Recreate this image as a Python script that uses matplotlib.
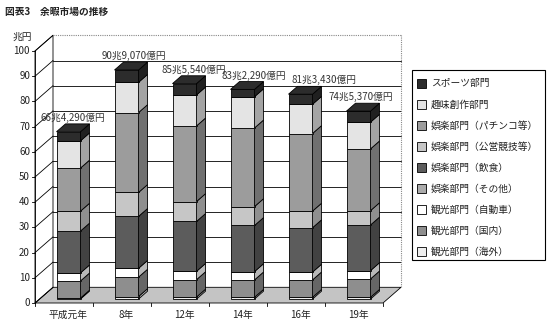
import matplotlib.pyplot as plt
from matplotlib.patches import Polygon, Rectangle
import matplotlib.colors as mcolors

plt.rcParams['font.family'] = ['Noto Sans CJK JP', 'DejaVu Sans']

years = ['平成元年', '8年', '12年', '14年', '16年', '19年']
totals = ['66兆4,290億円', '90兆9,070億円', '85兆5,540億円',
          '83兆2,290億円', '81兆3,430億円', '74兆5,370億円']

# 兆円, stacked from the bottom up
kaigai = [0.4, 1.0, 0.8, 0.7, 0.7, 0.7]
kokunai = [6.8, 7.7, 6.9, 6.9, 6.9, 7.3]
jidosha = [3.2, 3.5, 3.3, 3.3, 3.1, 3.3]
sonota = [0, 0, 0, 0, 0, 0]
inshoku = [16.6, 20.6, 19.8, 18.3, 17.6, 18.1]
koei = [7.9, 9.5, 7.9, 7.5, 6.6, 5.7]
pachinko = [17.1, 31.7, 30.0, 31.2, 30.8, 24.5]
shumi = [10.8, 12.0, 12.3, 12.4, 11.6, 10.6]
sports = [3.6, 4.9, 4.5, 2.9, 4.0, 4.4]

series = [
    ('観光部門（海外）', kaigai, '#eeeeee'),
    ('観光部門（国内）', kokunai, '#8e8e8e'),
    ('観光部門（自動車）', jidosha, '#ffffff'),
    ('娯楽部門（その他）', sonota, '#ababab'),
    ('娯楽部門（飲食）', inshoku, '#5c5c5c'),
    ('娯楽部門（公営競技等）', koei, '#c6c6c6'),
    ('娯楽部門（パチンコ等）', pachinko, '#9c9c9c'),
    ('趣味創作部門', shumi, '#e4e4e4'),
    ('スポーツ部門', sports, '#2c2c2c'),
]

# horizontal nudge of the total labels (px), as placed in the original
label_dx = [4.5, 7.5, 9.5, 11, 24, 2.5]

def shade(c, k):
    r, g, b = mcolors.to_rgb(c)
    return (r * k, g * k, b * k)

FW, FH = 548, 326
fig = plt.figure(figsize=(FW / 100, FH / 100), dpi=100)
ax = fig.add_axes([0, 0, 1, 1])
# 1 category = 58 px, 1 兆円 = 2.52 px, front axis at x=35px, y=303px
ax.set_xlim(-0.5 - 35 / 58, -0.5 + (FW - 35) / 58)
ax.set_ylim(-(FH - 303) / 2.52, 303 / 2.52)
ax.axis('off')

n = len(years)
DX, DY = 18 / 58, 15.7 / 2.52   # depth of the box
W = 24 / 58
f0, f1 = 0.25, 0.75
lw = 0.6

# floor
ax.add_patch(Polygon([(-0.5, 0), (n - 0.5, 0), (n - 0.5 + DX, DY), (-0.5 + DX, DY)],
                     closed=True, fc='#c4c4c4', ec='black', lw=lw, zorder=1))
# left wall
ax.add_patch(Polygon([(-0.5, 0), (-0.5 + DX, DY), (-0.5 + DX, 100 + DY), (-0.5, 100)],
                     closed=True, fc='white', ec='black', lw=lw, zorder=1))
for v in range(0, 101, 10):
    ax.plot([-0.5, -0.5 + DX], [v, v + DY], color='black', lw=lw, zorder=2)
    ax.plot([-0.5 - 3 / 58, -0.5], [v, v], color='black', lw=lw, zorder=2)
    ax.text(-0.5 - 5 / 58, v, str(v), ha='right', va='center', fontsize=7, color='#222222')
    if 0 < v < 100:
        ax.plot([-0.5 + DX, n - 0.5 + DX], [v + DY, v + DY], color='black', lw=lw, zorder=2)
# back wall top and right edges
ax.plot([-0.5 + DX, n - 0.5 + DX], [100 + DY, 100 + DY], color='#888888', lw=0.8, ls=(0, (1, 1)), zorder=2)
ax.plot([n - 0.5 + DX, n - 0.5 + DX], [DY, 100 + DY], color='#888888', lw=0.8, ls=(0, (1, 1)), zorder=2)
ax.plot([-0.5, -0.5], [0, 100], color='black', lw=lw, zorder=3)
for k in range(n + 1):
    ax.plot([-0.5 + k, -0.5 + k], [0, -1.2], color='black', lw=lw, zorder=3)

# bars
ddx, ddy = (f1 - f0) * DX, (f1 - f0) * DY
for i in range(n):
    x0 = i - W / 2 + f0 * DX
    cum = f0 * DY
    for name, vals, col in series:
        h = vals[i]
        if h <= 0:
            continue
        ax.add_patch(Polygon([(x0, cum), (x0 + W, cum), (x0 + W, cum + h), (x0, cum + h)],
                             closed=True, fc=col, ec='black', lw=lw, zorder=4))
        ax.add_patch(Polygon([(x0 + W, cum), (x0 + W + ddx, cum + ddy),
                              (x0 + W + ddx, cum + h + ddy), (x0 + W, cum + h)],
                             closed=True, fc=shade(col, 0.72), ec='black', lw=lw, zorder=4))
        cum += h
    top_col = series[-1][2]
    ax.add_patch(Polygon([(x0, cum), (x0 + W, cum), (x0 + W + ddx, cum + ddy), (x0 + ddx, cum + ddy)],
                         closed=True, fc=top_col, ec='black', lw=lw, zorder=4))
    ax.text(x0 + W / 2 + label_dx[i] / 58, cum + ddy + 2.4, totals[i], ha='center', va='center',
            fontsize=7, color='#333333', zorder=5)
    ax.text(i + 0.07, -4.8, years[i], ha='center', va='center', fontsize=7, color='#222222')

ax.text(-0.5 - 13 / 58, 105.5, '兆円', ha='center', va='center', fontsize=7, color='#222222')
fig.text(5 / FW, 1 - 12 / FH, '図表3　余暇市場の推移', ha='left', va='center',
         fontsize=7, fontweight='bold', color='#222222')

# legend box drawn by hand (pixel layout of the reference)
fig.add_artist(Rectangle((412 / FW, 1 - 260 / FH), 133 / FW, 190 / FH, transform=fig.transFigure,
                         fc='white', ec='black', lw=0.8))
for k, (name, vals, col) in enumerate(series[::-1]):
    yc = 83.3 + 21.05 * k
    fig.add_artist(Rectangle((417 / FW, 1 - (yc + 4.5) / FH), 9 / FW, 9 / FH,
                             transform=fig.transFigure, fc=col, ec='black', lw=lw))
    fig.text(431 / FW, 1 - yc / FH, name, ha='left', va='center', fontsize=7, color='#222222')

fig.savefig('out.png', dpi=100)
